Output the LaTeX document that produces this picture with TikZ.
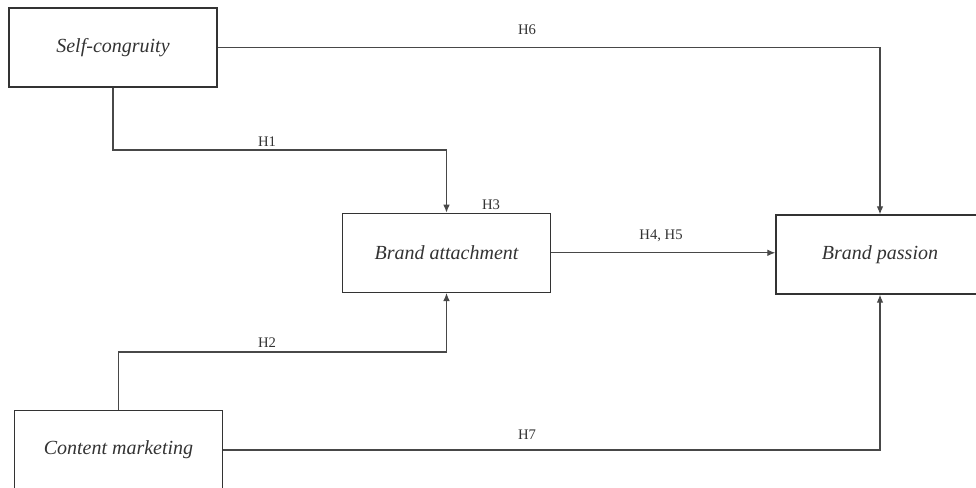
\documentclass[tikz,border=0pt]{standalone}
\usepackage{fontspec}
\setmainfont{Liberation Serif}
\usepackage{xcolor}
\usetikzlibrary{arrows.meta,positioning,calc}
\definecolor{ink}{HTML}{333333}
\definecolor{wire}{HTML}{484848}

\begin{document}
\begin{tikzpicture}[
    x=0.75pt, y=-0.75pt,
    box/.style={rectangle, draw=ink, line width=1.1pt, align=center, minimum width=156pt, minimum height=59.25pt, text=ink, font=\fontsize{15}{18}\selectfont\itshape},
    hyp/.style={text=ink, inner sep=0pt, font=\fontsize{11}{13}\selectfont},
    arrow/.style={-{Latex[length=6pt,width=5pt]}, draw=wire, line width=0.8pt},
    link/.style={draw=wire, line width=0.8pt}
]
\useasboundingbox (0,0) rectangle (976,487);
\clip (0,0) rectangle (976,487);

% Constructs
\node[box] (self) at (113,47.5) {Self-congruity};
\node[box] (attach) at (446.5,252.8) {Brand attachment};
\node[box] (passion) at (880,254.5) {Brand passion};
\node[box] (content) at (118.5,450) {Content marketing};

% Bends
\coordinate (bend1) at (446.5,150);
\coordinate (bend2) at (446.5,352);

% Paths
\draw[arrow] (self.east) -| (passion.north);
\draw[arrow] (self.south) |- (bend1) -- (attach.north);
\draw[arrow] (content.north) |- (bend2) -- (attach.south);
\draw[arrow] (attach.east) -- (attach.east -| passion.west);
\draw[arrow] (content.east) -| (passion.south);

% Hypotheses
\node[hyp] (h6) at (527,30) {H6};
\node[hyp] (h1) at (267,142) {H1};
\node[hyp] (h3) at (491,205) {H3};
\node[hyp] (h45) at (661,236) {H4, H5};
\node[hyp] (h2) at (267,343) {H2};
\node[hyp] (h7) at (527,435) {H7};

\end{tikzpicture}
\end{document}
